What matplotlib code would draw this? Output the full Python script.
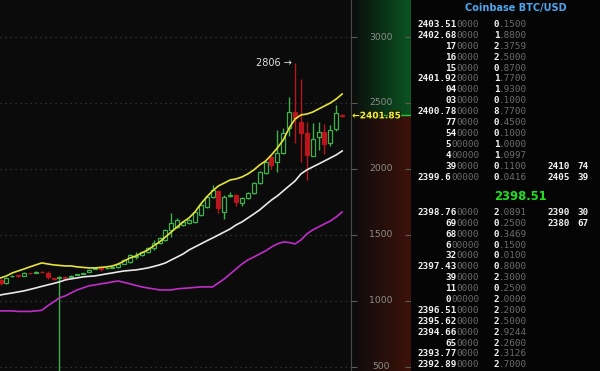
import numpy as np
import matplotlib
matplotlib.use("Agg")
import matplotlib.pyplot as plt
import matplotlib.patheffects as pe

# candles (open, high, low, close)
opens = [1158, 1135, 1185, 1192, 1190, 1212, 1212, 1220, 1212, 1170,
         1175, 1178, 1183, 1196, 1202, 1218, 1244, 1249, 1245, 1252,
         1256, 1279, 1294, 1330, 1348, 1370, 1401, 1438, 1461, 1537,
         1560, 1575, 1590, 1598, 1651, 1711, 1787, 1832, 1673, 1798,
         1802, 1742, 1780, 1817, 1893, 1970, 2090, 2052, 2120, 2310,
         2431, 2356, 2272, 2098, 2242, 2280, 2196, 2303, 2410]
highs = [1165, 1180, 1198, 1196, 1215, 1214, 1225, 1228, 1222, 1172,
         1186, 1180, 1193, 1206, 1212, 1238, 1252, 1255, 1256, 1262,
         1283, 1315, 1356, 1372, 1375, 1408, 1461, 1484, 1545, 1666,
         1625, 1605, 1620, 1680, 1735, 1800, 1878, 1840, 1800, 1822,
         1808, 1785, 1825, 1900, 1985, 2060, 2095, 2295, 2310, 2545,
         2806, 2682, 2356, 2350, 2356, 2340, 2330, 2485, 2416]
lows = [1120, 1128, 1178, 1182, 1188, 1205, 1208, 1210, 1165, 1160,
        420, 1170, 1180, 1192, 1200, 1215, 1240, 1228, 1242, 1249,
        1252, 1275, 1287, 1320, 1340, 1365, 1385, 1430, 1455, 1484,
        1550, 1565, 1585, 1590, 1640, 1700, 1780, 1666, 1620, 1785,
        1720, 1720, 1775, 1810, 1885, 1960, 2000, 1976, 2110, 2250,
        2196, 2052, 1916, 2098, 2143, 2115, 2170, 2290, 2395]
closes = [1135, 1173, 1190, 1186, 1212, 1208, 1217, 1216, 1180, 1165,
          1182, 1173, 1190, 1203, 1208, 1234, 1249, 1240, 1250, 1258,
          1279, 1310, 1348, 1336, 1370, 1401, 1438, 1476, 1537, 1590,
          1613, 1598, 1613, 1673, 1727, 1787, 1840, 1704, 1787, 1805,
          1750, 1780, 1817, 1893, 1976, 2052, 2030, 2120, 2272, 2431,
          2386, 2272, 2105, 2227, 2280, 2189, 2295, 2424, 2401.85]

ma_yellow = [1173, 1188, 1211, 1226, 1241, 1257, 1272, 1287, 1279, 1272,
             1268, 1264, 1264, 1257, 1253, 1249, 1249, 1253, 1257, 1264,
             1279, 1302, 1325, 1340, 1363, 1385, 1416, 1446, 1484, 1522,
             1560, 1598, 1628, 1673, 1734, 1787, 1833, 1871, 1893, 1916,
             1924, 1939, 1962, 1992, 2030, 2060, 2106, 2159, 2219, 2310,
             2378, 2409, 2416, 2431, 2454, 2477, 2500, 2530, 2568]
ma_white = [1044, 1052, 1059, 1067, 1075, 1086, 1097, 1109, 1120, 1131,
            1143, 1158, 1166, 1173, 1181, 1185, 1188, 1196, 1204, 1211,
            1219, 1226, 1230, 1234, 1241, 1249, 1260, 1272, 1287, 1310,
            1332, 1355, 1385, 1408, 1431, 1454, 1476, 1499, 1522, 1545,
            1575, 1598, 1628, 1658, 1689, 1727, 1764, 1795, 1833, 1871,
            1908, 1962, 1992, 2015, 2037, 2060, 2083, 2106, 2136]
ma_magenta = [923, 923, 923, 919, 919, 919, 923, 927, 961, 991,
              1022, 1037, 1060, 1082, 1097, 1113, 1120, 1128, 1135, 1143,
              1150, 1139, 1128, 1116, 1105, 1097, 1090, 1082, 1082, 1082,
              1090, 1094, 1097, 1101, 1105, 1105, 1105, 1135, 1166, 1204,
              1241, 1279, 1310, 1332, 1355, 1378, 1408, 1431, 1446, 1442,
              1431, 1461, 1507, 1537, 1560, 1583, 1605, 1636, 1673]

yticks = [500, 1000, 1500, 2000, 2500, 3000]
last_price = 2401.85
peak_label = 2806

title = "Coinbase BTC/USD"
mid_price = "2398.51"
ask_prices = ["2403.51|0000", "2402.68|0000", "17|0000", "16|0000", "15|0000",
              "2401.92|0000", "04|0000", "03|0000", "2400.78|0000", "77|0000",
              "54|0000", "5|00000", "4|00000", "39|0000", "2399.6|00000"]
ask_sizes = ["0|.1500", "1|.8800", "2|.3759", "2|.5000", "0|.8700", "1|.7700",
             "1|.9300", "0|.1000", "8|.7700", "0|.4500", "0|.1000", "1|.0000",
             "1|.0997", "0|.1100", "0|.0416"]
bid_prices = ["2398.76|0000", "69|0000", "68|0000", "6|00000", "32|0000",
              "2397.43|0000", "39|0000", "11|0000", "0|00000", "2396.51|0000",
              "2395.62|0000", "2394.66|0000", "65|0000", "2393.77|0000",
              "2392.89|0000"]
bid_sizes = ["2|.0891", "0|.2500", "0|.3469", "0|.1500", "0|.0100", "0|.8000",
             "2|.3000", "0|.2500", "2|.0000", "2|.2000", "2|.5000", "2|.9244",
             "2|.2600", "2|.3126", "2|.7000"]
ask_levels = {13: ("2410", "74"), 14: ("2405", "39")}
bid_levels = {0: ("2390", "30"), 1: ("2380", "67")}

BG = "#0b0b0b"
GREEN = "#3fb04c"
RED = "#b8161c"

fig = plt.figure(figsize=(6, 3.71), dpi=100, facecolor=BG)

# main chart
ax = fig.add_axes([0, 0, 351 / 600, 1], facecolor=BG)
ymin, ymax = 467.3, 3280.6
ax.set_ylim(ymin, ymax)
ax.set_xlim(-0.085, 59.5)
for s in ax.spines.values():
    s.set_visible(False)
ax.set_xticks([])
ax.set_yticks(yticks)
ax.tick_params(left=False, labelleft=False)
ax.grid(axis="y", color="#3c3c3c", linestyle=(0, (1, 3)), linewidth=0.9)

o = np.array(opens, float)
h = np.array(highs, float)
l = np.array(lows, float)
c = np.array(closes, float)
idx = np.arange(len(o))
up = c >= o
up[-1] = False

ax.vlines(idx[up], l[up], h[up], color=GREEN, linewidth=1.0, zorder=2)
ax.vlines(idx[~up], l[~up], h[~up], color=RED, linewidth=1.0, zorder=2)
body_lo = np.minimum(o, c)
body_h = np.abs(c - o)
ax.bar(idx[up], body_h[up], bottom=body_lo[up], width=0.68, facecolor=BG,
       edgecolor=GREEN, linewidth=0.9, zorder=3)
ax.bar(idx[~up], body_h[~up], bottom=body_lo[~up], width=0.68, facecolor=RED,
       edgecolor=RED, linewidth=0.9, zorder=3)

ax.plot(idx, ma_magenta, color="#c02cc8", linewidth=1.2, zorder=4)
ax.plot(idx, ma_white, color="#e8e8e8", linewidth=1.2, zorder=4)
ax.plot(idx, ma_yellow, color="#e4e43a", linewidth=1.2, zorder=4)

peak_i = int(np.argmax(h))
ax.text(peak_i - 0.6, peak_label, f"{peak_label} \u2192", color="#e0e0e0",
        fontsize=7, ha="right", va="center")

# price axis panel
axp = fig.add_axes([351 / 600, 0, 60 / 600, 1], facecolor=BG, sharey=ax)
axp.set_xlim(0, 1)
grad = np.linspace(0, 1, 64)[None, :, None]
dark = np.array([0.045, 0.045, 0.045])
green_rgb = dark + grad * (np.array([0.04, 0.33, 0.13]) - dark)
red_rgb = dark + grad * (np.array([0.24, 0.07, 0.04]) - dark)
axp.imshow(green_rgb, extent=(0, 1, last_price, ymax), aspect="auto", zorder=0)
axp.imshow(red_rgb, extent=(0, 1, ymin, last_price), aspect="auto", zorder=0)
axp.set_ylim(ymin, ymax)
axp.axhline(last_price + 8, color="#30c040", linewidth=1.0, zorder=2)
axp.set_xticks([])
axp.set_yticks(yticks)
axp.tick_params(axis="y", left=True, right=True, direction="in", length=4,
                color="#5a5a5a", labelleft=False, labelright=False)
for name, s in axp.spines.items():
    s.set_visible(name == "left")
axp.spines["left"].set_color("#4a4a4a")
for t in yticks:
    axp.text(0.5, t, str(t), color="#8c8c8c", fontsize=6.7, ha="center",
             va="center", transform=axp.get_yaxis_transform())
axp.text(0.02, last_price, f"\u2190{last_price:.2f}", color="#f0f040",
         fontsize=6.5, fontweight="bold", ha="left", va="center", zorder=5,
         transform=axp.get_yaxis_transform(),
         path_effects=[pe.withStroke(linewidth=1.5, foreground="#1a1a00")])

# order book panel (pixel coordinates)
axb = fig.add_axes([411 / 600, 0, 189 / 600, 1], facecolor="#050505")
axb.set_xlim(411, 600)
axb.set_ylim(371, 0)
axb.axis("off")
axb.add_patch(plt.Rectangle((411, 0), 189, 371, color="#050505", zorder=0))

fs = 6.64
cw = 5.55
mono = "DejaVu Sans Mono"


def split_text(x_right, y, s):
    hi, lo = s.split("|")
    axb.text(x_right, y, lo, color="#6c6c6c", fontsize=fs, family=mono,
             ha="right", va="center")
    axb.text(x_right - cw * len(lo), y, hi, color="#f2f2f2", fontsize=fs,
             family=mono, fontweight="bold", ha="right", va="center")


def book_rows(prices, sizes, levels, y0, dy):
    for k, (p, sz) in enumerate(zip(prices, sizes)):
        y = y0 + k * dy
        split_text(479, y, p)
        split_text(527, y, sz)
        if k in levels:
            a, b = levels[k]
            axb.text(548, y, a, color="#f2f2f2", fontsize=fs, family=mono,
                     fontweight="bold", ha="left", va="center")
            axb.text(589, y, b, color="#f2f2f2", fontsize=fs, family=mono,
                     fontweight="bold", ha="right", va="center")


axb.text(516, 8, title, color="#4ea6ee", fontsize=7, fontweight="bold",
         ha="center", va="center")
book_rows(ask_prices, ask_sizes, ask_levels, 24.3, 10.93)
axb.text(520, 196.5, mid_price, color="#22dd22", fontsize=8.4,
         fontweight="bold", ha="center", va="center")
book_rows(bid_prices, bid_sizes, bid_levels, 212.3, 10.9)

fig.savefig("out.png", dpi=100, facecolor=BG)
